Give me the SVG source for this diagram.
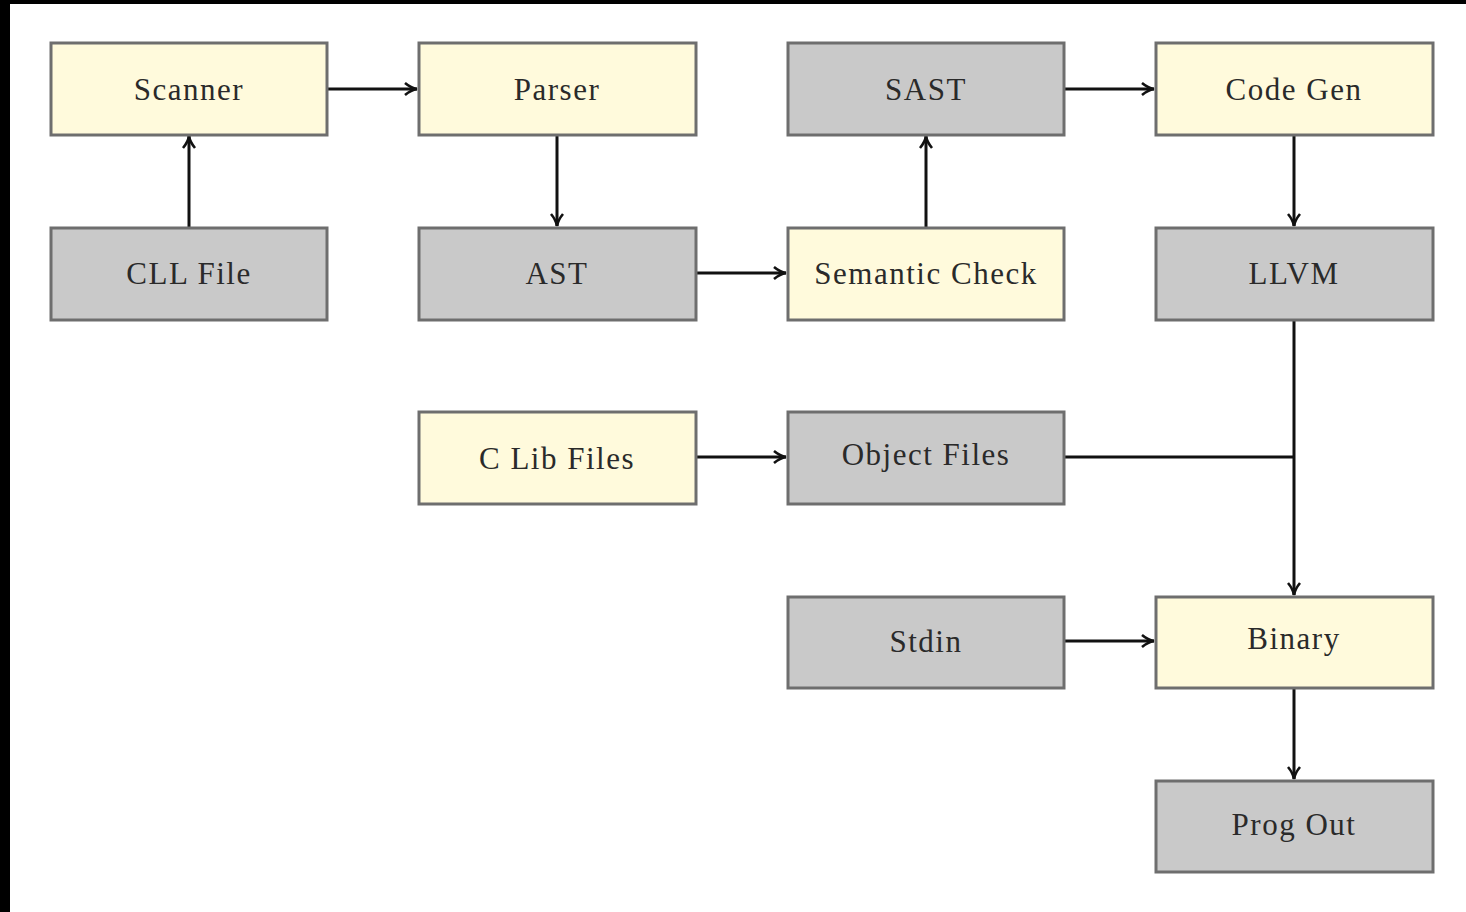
<svg xmlns="http://www.w3.org/2000/svg" width="1466" height="912" viewBox="0 0 1466 912">
<style>
.box{stroke:#6e6e6e;stroke-width:3}
.y{fill:#fffadc}
.g{fill:#c9c9c9}
.t{font-family:"Liberation Serif","DejaVu Serif",serif;font-size:31px;letter-spacing:1.5px;fill:#2a2a2a;text-anchor:middle;dominant-baseline:central}
.c{stroke:#111;stroke-width:3;fill:none}
.a{marker-end:url(#ah)}
</style>
<defs>
<marker id="ah" viewBox="0 0 14 14" refX="13" refY="7" markerWidth="14" markerHeight="14" markerUnits="userSpaceOnUse" orient="auto">
<path d="M1,1 Q7,6 13,7 Q7,8 1,13" fill="none" stroke="#111" stroke-width="2.6"/>
</marker>
</defs>
<rect x="0" y="0" width="1466" height="912" fill="#fff"/>
<rect x="0" y="0" width="1466" height="4" fill="#000"/>
<rect x="0" y="0" width="10" height="912" fill="#000"/>
<g id="connectors">
<path class="c a" d="M327,89 H417"/>
<path class="c a" d="M189,227 V136"/>
<path class="c a" d="M557,135 V226"/>
<path class="c a" d="M696,273 H786"/>
<path class="c a" d="M926,227 V136"/>
<path class="c a" d="M1064,89 H1154"/>
<path class="c a" d="M1294,135 V226"/>
<path class="c a" d="M1294,320 V595"/>
<path class="c" d="M1064,457 H1294"/>
<path class="c a" d="M696,457 H786"/>
<path class="c a" d="M1064,641 H1154"/>
<path class="c a" d="M1294,688 V779"/>
</g>
<g id="scanner"><rect class="box y" x="51" y="43" width="276" height="92"/><text class="t" x="189" y="89">Scanner</text></g>
<g id="parser"><rect class="box y" x="419" y="43" width="277" height="92"/><text class="t" x="557" y="89">Parser</text></g>
<g id="sast"><rect class="box g" x="788" y="43" width="276" height="92"/><text class="t" x="926" y="89">SAST</text></g>
<g id="codegen"><rect class="box y" x="1156" y="43" width="277" height="92"/><text class="t" x="1294" y="89">Code Gen</text></g>
<g id="cllfile"><rect class="box g" x="51" y="228" width="276" height="92"/><text class="t" x="189" y="273">CLL File</text></g>
<g id="ast"><rect class="box g" x="419" y="228" width="277" height="92"/><text class="t" x="557" y="273">AST</text></g>
<g id="semantic"><rect class="box y" x="788" y="228" width="276" height="92"/><text class="t" x="926" y="273">Semantic Check</text></g>
<g id="llvm"><rect class="box g" x="1156" y="228" width="277" height="92"/><text class="t" x="1294" y="273">LLVM</text></g>
<g id="clib"><rect class="box y" x="419" y="412" width="277" height="92"/><text class="t" x="557" y="458">C Lib Files</text></g>
<g id="objfiles"><rect class="box g" x="788" y="412" width="276" height="92"/><text class="t" x="926" y="454">Object Files</text></g>
<g id="stdin"><rect class="box g" x="788" y="597" width="276" height="91"/><text class="t" x="926" y="641">Stdin</text></g>
<g id="binary"><rect class="box y" x="1156" y="597" width="277" height="91"/><text class="t" x="1294" y="638">Binary</text></g>
<g id="progout"><rect class="box g" x="1156" y="781" width="277" height="91"/><text class="t" x="1294" y="824">Prog Out</text></g>
</svg>
